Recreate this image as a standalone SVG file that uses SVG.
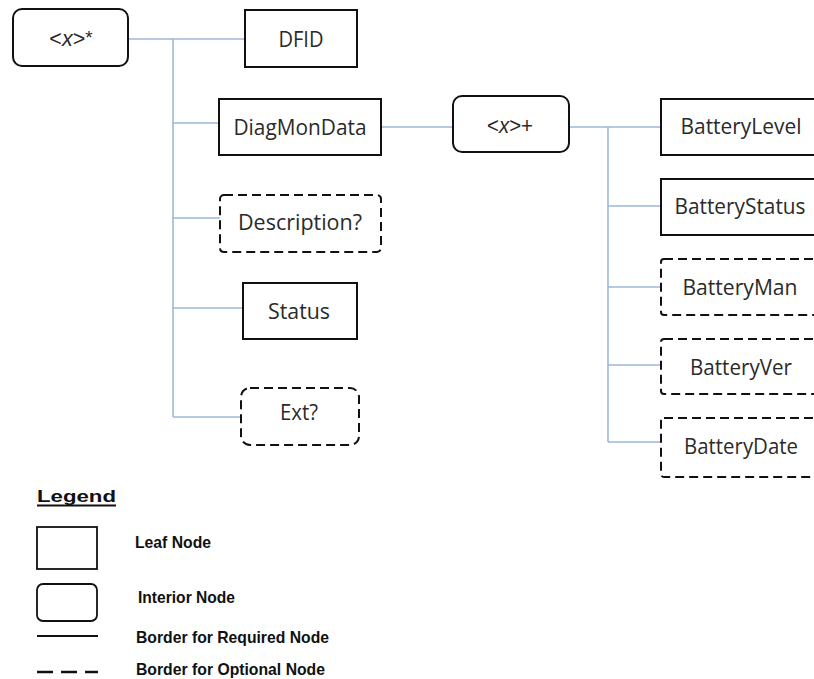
<svg xmlns="http://www.w3.org/2000/svg" width="814" height="679" viewBox="0 0 814 679">
  <style>
    .box { fill: #fff; stroke: #111; stroke-width: 2; }
    .opt { fill: #fff; stroke: #111; stroke-width: 2; stroke-dasharray: 9 5; }
    .lbl { font-family: "Open Sans", "Noto Sans", sans-serif; font-size: 21px; fill: #2a2a2a; text-anchor: middle; }
    .sym { font-family: "Liberation Sans", Arial, sans-serif; font-size: 21.5px; fill: #2a2a2a; text-anchor: middle; }
    .conn { stroke: #9db8d8; stroke-width: 1.6; fill: none; }
    .leg { font-family: "Liberation Sans", Arial, sans-serif; font-weight: bold; font-size: 16.5px; fill: #111; }
  </style>

  <rect width="814" height="679" fill="#fff"/>

  <!-- tree connectors -->
  <g id="connectors" class="conn">
    <path d="M128 39 H245"/>
    <path d="M173 39 V417"/>
    <path d="M173 123 H219"/>
    <path d="M173 218 H220"/>
    <path d="M173 308 H243"/>
    <path d="M173 417 H241"/>
    <path d="M381 127 H453"/>
    <path d="M569 127 H661"/>
    <path d="M608 127 V442"/>
    <path d="M608 206 H661"/>
    <path d="M608 287 H661"/>
    <path d="M608 365 H661"/>
    <path d="M608 442 H661"/>
  </g>

  <!-- first level -->
  <g id="root">
    <rect class="box" x="13" y="9" width="115" height="57" rx="9"/>
    <text class="sym" x="71" y="46">&lt;<tspan font-style="italic">x</tspan>&gt;<tspan dy="-2" font-size="19">*</tspan></text>
  </g>
  <g id="dfid">
    <rect class="box" x="245" y="10" width="112" height="57"/>
    <text class="lbl" x="301" y="47" textLength="45" lengthAdjust="spacingAndGlyphs">DFID</text>
  </g>
  <g id="diagmondata">
    <rect class="box" x="219" y="99" width="162" height="56"/>
    <text class="lbl" x="300" y="135" textLength="133" lengthAdjust="spacingAndGlyphs">DiagMonData</text>
  </g>
  <g id="description">
    <rect class="opt" x="220" y="195" width="161" height="57" rx="4"/>
    <text class="lbl" x="300" y="230" textLength="124" lengthAdjust="spacingAndGlyphs">Description?</text>
  </g>
  <g id="status">
    <rect class="box" x="243" y="283" width="114" height="56"/>
    <text class="lbl" x="299" y="319" textLength="62" lengthAdjust="spacingAndGlyphs">Status</text>
  </g>
  <g id="ext">
    <rect class="opt" x="241" y="388" width="118" height="57" rx="9"/>
    <text class="lbl" x="299" y="420" textLength="38" lengthAdjust="spacingAndGlyphs">Ext?</text>
  </g>

  <!-- second level -->
  <g id="instance">
    <rect class="box" x="453" y="96" width="116" height="56" rx="9"/>
    <text class="sym" x="510" y="133" textLength="46" lengthAdjust="spacingAndGlyphs">&lt;<tspan font-style="italic">x</tspan>&gt;+</text>
  </g>
  <g id="batterylevel">
    <rect class="box" x="661" y="99" width="160" height="56"/>
    <text class="lbl" x="741" y="134" textLength="121" lengthAdjust="spacingAndGlyphs">BatteryLevel</text>
  </g>
  <g id="batterystatus">
    <rect class="box" x="661" y="179" width="160" height="56"/>
    <text class="lbl" x="740" y="214" textLength="131" lengthAdjust="spacingAndGlyphs">BatteryStatus</text>
  </g>
  <g id="batteryman">
    <rect class="opt" x="661" y="259" width="160" height="56" rx="3"/>
    <text class="lbl" x="740" y="295" textLength="115" lengthAdjust="spacingAndGlyphs">BatteryMan</text>
  </g>
  <g id="batteryver">
    <rect class="opt" x="661" y="339" width="160" height="55" rx="3"/>
    <text class="lbl" x="741" y="375" textLength="102" lengthAdjust="spacingAndGlyphs">BatteryVer</text>
  </g>
  <g id="batterydate">
    <rect class="opt" x="661" y="418" width="160" height="59" rx="3"/>
    <text class="lbl" x="741" y="454" textLength="114" lengthAdjust="spacingAndGlyphs">BatteryDate</text>
  </g>

  <!-- legend -->
  <g id="legend">
    <text class="leg" x="37" y="502" font-size="20" textLength="79" lengthAdjust="spacingAndGlyphs">Legend</text>
    <line x1="37" y1="505.5" x2="116" y2="505.5" stroke="#111" stroke-width="1.8"/>
    <rect x="37" y="527" width="60" height="42" fill="#fff" stroke="#111" stroke-width="1.8"/>
    <text class="leg" x="135" y="548" textLength="76" lengthAdjust="spacingAndGlyphs">Leaf Node</text>
    <rect x="37" y="584" width="60" height="37" rx="6" fill="#fff" stroke="#111" stroke-width="1.8"/>
    <text class="leg" x="138" y="603" textLength="97" lengthAdjust="spacingAndGlyphs">Interior Node</text>
    <line x1="37" y1="636" x2="98" y2="636" stroke="#111" stroke-width="1.8"/>
    <text class="leg" x="136" y="643" textLength="193" lengthAdjust="spacingAndGlyphs">Border for Required Node</text>
    <line x1="37" y1="672" x2="98" y2="672" stroke="#111" stroke-width="2.6" stroke-dasharray="16 8"/>
    <text class="leg" x="136" y="675" textLength="189" lengthAdjust="spacingAndGlyphs">Border for Optional Node</text>
  </g>
</svg>
